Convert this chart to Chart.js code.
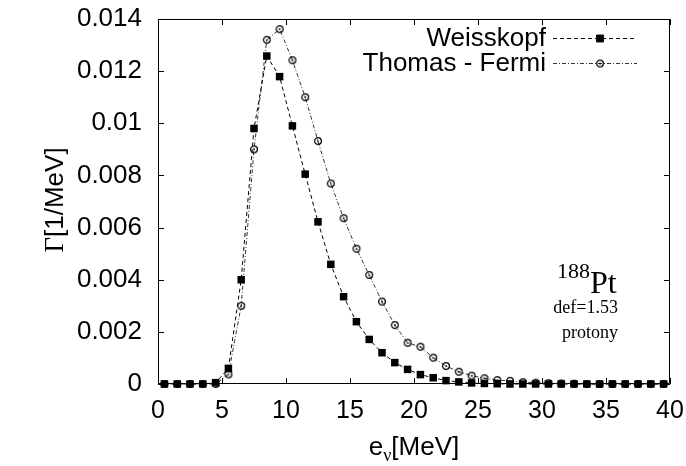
<!DOCTYPE html>
<html>
<head>
<meta charset="utf-8">
<script src="https://cdn.jsdelivr.net/npm/chart.js@4.4.1/dist/chart.umd.min.js"></script>
<style>
  html, body { margin: 0; padding: 0; background: #fff; }
  #chart { display: block; }
</style>
</head>
<body>
<canvas id="chart" width="686" height="466"></canvas>
<script>
'use strict'

// neutron energy bins [MeV]
var energies = [0.5, 1.5, 2.5, 3.5, 4.5, 5.5, 6.5, 7.5, 8.5, 9.5,
  10.5, 11.5, 12.5, 13.5, 14.5, 15.5, 16.5, 17.5, 18.5, 19.5,
  20.5, 21.5, 22.5, 23.5, 24.5, 25.5, 26.5, 27.5, 28.5, 29.5,
  30.5, 31.5, 32.5, 33.5, 34.5, 35.5, 36.5, 37.5, 38.5, 39.5];

var weisskopf = [0, 0, 0, 0, 0.00005, 0.0006, 0.0040, 0.0098, 0.01258, 0.01179,
  0.0099, 0.00805, 0.00622, 0.00459, 0.00335, 0.00239, 0.00171, 0.0012, 0.00082, 0.00056,
  0.00036, 0.00024, 0.00013, 0.00008, 0.00004, 0.00002, 0.00001, 0, 0, 0,
  0, 0, 0, 0, 0, 0, 0, 0, 0, 0];

var thomasFermi = [0, 0, 0, 0, 0, 0.00037, 0.0030, 0.0090, 0.0132, 0.01361,
  0.01242, 0.0110, 0.00932, 0.00769, 0.00636, 0.00519, 0.00418, 0.00316, 0.00226, 0.00158,
  0.00143, 0.00101, 0.00069, 0.00047, 0.00032, 0.00022, 0.00015, 0.00012, 0.00007, 0.00005,
  0.00003, 0.00002, 0.00001, 0, 0, 0, 0, 0, 0, 0];

var seriesNames = ['Weisskopf', 'Thomas - Fermi'];
var xTicks = [0, 5, 10, 15, 20, 25, 30, 35, 40];
var yTicks = [0, 0.002, 0.004, 0.006, 0.008, 0.01, 0.012, 0.014];
var yTickLabels = ['0', '0.002', '0.004', '0.006', '0.008', '0.01', '0.012', '0.014'];

var SANS = "'Liberation Sans', Arial, Helvetica, sans-serif";
var SERIF = "'Liberation Serif', 'Times New Roman', serif";

function toPoints(ys) {
  return energies.map(function (x, i) { return {x: x, y: ys[i]}; });
}

// open circle with a dot in the middle (gnuplot style)
function dottedCircle() {
  var c = document.createElement('canvas');
  c.width = 10; c.height = 10;
  var g = c.getContext('2d');
  g.strokeStyle = '#000';
  g.lineWidth = 1.2;
  g.beginPath();
  g.arc(5, 5, 3.4, 0, 2 * Math.PI);
  g.stroke();
  g.fillStyle = '#000';
  g.fillRect(4, 4.5, 2, 1.2);
  return c;
}
var circleImg = dottedCircle();

//------------- frame + inner ticks on all four sides ------------- //
var framePlugin = {
  id: 'frame',
  beforeDatasetsDraw: function (chart) {
    var c = chart.ctx, a = chart.chartArea;
    var xs = chart.scales.x, ys = chart.scales.y;
    var t = 6;
    c.save();
    c.strokeStyle = '#000';
    c.lineWidth = 1;
    c.beginPath();
    c.rect(a.left + 0.5, a.top + 0.5, a.right - a.left - 1, a.bottom - a.top - 1);
    xTicks.forEach(function (v) {
      var px = Math.round(xs.getPixelForValue(v)) + 0.5;
      c.moveTo(px, a.bottom); c.lineTo(px, a.bottom - t);
      c.moveTo(px, a.top); c.lineTo(px, a.top + t);
    });
    yTicks.forEach(function (v) {
      var py = Math.round(ys.getPixelForValue(v)) + 0.5;
      c.moveTo(a.left, py); c.lineTo(a.left + t, py);
      c.moveTo(a.right, py); c.lineTo(a.right - t, py);
    });
    c.stroke();
    c.restore();
  }
};

//------------- titles, legend, annotation ------------- //
var textPlugin = {
  id: 'texts',
  afterDraw: function (chart) {
    var c = chart.ctx, a = chart.chartArea;
    c.save();
    c.fillStyle = '#000';
    c.textBaseline = 'alphabetic';

    // x title: e_nu[MeV]
    var f1 = '26px ' + SANS, f2 = '18px ' + SERIF;
    c.font = f1; var we = c.measureText('e').width, wm = c.measureText('[MeV]').width;
    c.font = f2; var wn = c.measureText('\u03bd').width;
    var x0 = (a.left + a.right) / 2 - (we + wn + wm) / 2, by = 455;
    c.textAlign = 'left';
    c.font = f1; c.fillText('e', x0, by);
    c.font = f2; c.fillText('\u03bd', x0 + we, by + 6);
    c.font = f1; c.fillText('[MeV]', x0 + we + wn, by);

    // y title: Gamma[1/MeV]
    c.save();
    c.translate(63, 200);
    c.rotate(-Math.PI / 2);
    var g1 = '27px ' + SERIF;
    c.font = g1; var wg = c.measureText('\u0393').width;
    c.font = f1; var wr = c.measureText('[1/MeV]').width;
    var s0 = -(wg + wr) / 2;
    c.font = g1; c.fillText('\u0393', s0, 0);
    c.font = f1; c.fillText('[1/MeV]', s0 + wg, 0);
    c.restore();

    // legend: text right aligned, sample line to the right
    var rows = [38, 63];
    chart.data.datasets.forEach(function (ds, i) {
      var y = rows[i];
      c.fillStyle = '#000';
      c.font = '26px ' + SANS;
      c.textAlign = 'right';
      c.fillText(seriesNames[i], 546, y + 8);
      c.save();
      c.strokeStyle = ds.borderColor;
      c.lineWidth = ds.borderWidth;
      c.setLineDash(ds.borderDash);
      c.beginPath();
      c.moveTo(553, y + 0.5); c.lineTo(637, y + 0.5);
      c.stroke();
      c.restore();
      Chart.helpers.drawPoint(c, {
        pointStyle: ds.pointStyle, radius: ds.pointRadius, rotation: 0, borderWidth: 0
      }, 600, y + 0.5);
      if (ds.pointStyle === 'rect') {
        c.fillStyle = '#000';
        c.fill();
      }
    });

    // nucleus annotation
    c.fillStyle = '#000';
    c.textAlign = 'right';
    c.font = '22px ' + SERIF; c.fillText('188', 590, 278);
    c.textAlign = 'left';
    c.font = '32px ' + SERIF; c.fillText('Pt', 590, 293);
    c.textAlign = 'right';
    c.font = '18px ' + SERIF; c.fillText('def=1.53', 618, 313);
    c.fillText('protony', 618, 338);
    c.restore();
  }
};

var ctx = document.getElementById('chart').getContext('2d');

var myChart = new Chart(ctx, {
  type: 'line',
  data: {
    datasets: [{
      label: seriesNames[0],
      data: toPoints(weisskopf),
      borderColor: '#000',
      backgroundColor: '#000',
      borderWidth: 1,
      borderDash: [4, 3],
      pointStyle: 'rect',
      pointRadius: 5.3,
      pointBorderWidth: 0,
      pointBackgroundColor: '#000',
      tension: 0,
      clip: false
    }, {
      label: seriesNames[1],
      data: toPoints(thomasFermi),
      borderColor: '#333',
      backgroundColor: '#333',
      borderWidth: 1,
      borderDash: [4, 2, 1, 2],
      pointStyle: circleImg,
      pointRadius: 4,
      tension: 0,
      clip: false
    }]
  },
  options: {
    responsive: false,
    animation: false,
    devicePixelRatio: 1,
    layout: { padding: { top: 19, right: 16, left: 0, bottom: 0 } },
    plugins: {
      legend: { display: false },
      tooltip: { enabled: false }
    },
    scales: {
      x: {
        type: 'linear',
        min: 0,
        max: 40,
        afterBuildTicks: function (s) { s.ticks = xTicks.map(function (v) { return {value: v}; }); },
        afterFit: function (s) {
          s.height = 82;
          s.paddingLeft = 0; s.paddingRight = 0;
        },
        grid: { display: false, drawTicks: false },
        border: { display: false },
        ticks: {
          color: '#000',
          font: { family: SANS, size: 25 },
          padding: 12,
          maxRotation: 0,
          autoSkip: false
        }
      },
      y: {
        type: 'linear',
        min: 0,
        max: 0.014,
        afterBuildTicks: function (s) { s.ticks = yTicks.map(function (v) { return {value: v}; }); },
        afterFit: function (s) {
          s.width = 158;
          s.paddingTop = 0; s.paddingBottom = 0;
        },
        grid: { display: false, drawTicks: false },
        border: { display: false },
        ticks: {
          color: '#000',
          font: { family: SANS, size: 26 },
          padding: 16,
          autoSkip: false,
          callback: function (v, i) { return yTickLabels[i]; }
        }
      }
    }
  },
  plugins: [framePlugin, textPlugin]
});
</script>
</body>
</html>
